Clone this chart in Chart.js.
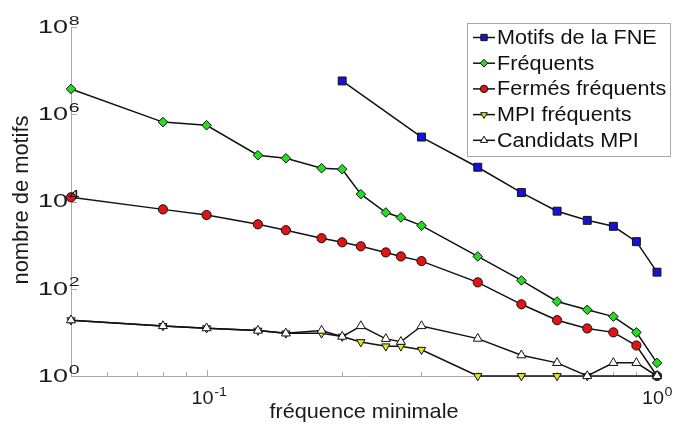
<!DOCTYPE html>
<html>
<head>
<meta charset="utf-8">
<script src="https://cdn.jsdelivr.net/npm/chart.js@4.4.1/dist/chart.umd.min.js"></script>
<style>
  html, body { margin: 0; padding: 0; background: #fff; }
  #wrap { width: 675px; height: 435px; }
</style>
</head>
<body>
<div id="wrap"><canvas id="chart"></canvas></div>
<script>
// minimal frequency (x) values
const freq = [0.05, 0.08, 0.1, 0.13, 0.15, 0.18, 0.2, 0.22, 0.25, 0.27, 0.3, 0.4, 0.5, 0.6, 0.7, 0.8, 0.9, 1.0];

// number of patterns per series (null = no point)
const motifsFNE = [null, null, null, null, null, null, 5.8e6, null, null, null, 3.0e5, 6.1e4, 1.6e4, 6.0e3, 3.7e3, 2.7e3, 1.2e3, 240];
const frequents = [3.8e6, 6.6e5, 5.6e5, 1.15e5, 9.8e4, 5.8e4, 5.5e4, 1.47e4, 5.6e3, 4.3e3, 2.8e3, 550, 155, 51, 33, 23, 10, 2];
const fermesFrequents = [1.25e4, 6.6e3, 4.9e3, 3.0e3, 2.2e3, 1.44e3, 1.16e3, 940, 680, 550, 430, 140, 44, 19, 12.3, 10, 5, 1];
const mpiFrequents = [19, 14, 12.5, 11, 9.5, 9.5, 8, 6, 4.8, 4.8, 4, 1, 1, 1, 1, null, null, 1];
const candidatsMPI = [19, 14, 12.5, 11, 9.5, 11, 8, 14, 7.1, 6.1, 14, 7.2, 3, 2, 1, 2, 2, 1];

const seriesNames = ['Motifs de la FNE', 'Fréquents', 'Fermés fréquents', 'MPI fréquents', 'Candidats MPI'];

// tick labels (powers of ten)
const xTickExp = [-1, 0];
const yTickExp = [0, 2, 4, 6, 8];
const xMinorTicks = [0.06, 0.07, 0.08, 0.09, 0.2, 0.3, 0.4, 0.5, 0.6, 0.7, 0.8, 0.9];

const FONT = "'Liberation Sans', Arial, sans-serif";
const AXIS_GREY = '#a9a9a9';

function toPoints(values) {
    return freq.map((f, i) => ({x: f, y: values[i]}));
}

const styles = [
    {color: '#1414d2', pointStyle: 'rect', radius: 5.6, rotation: 0},
    {color: '#22dd22', pointStyle: 'rectRot', radius: 4.8, rotation: 0},
    {color: '#e01414', pointStyle: 'circle', radius: 4.6, rotation: 0},
    {color: '#e4e422', pointStyle: 'triangle', radius: 4.8, rotation: 180},
    {color: '#ffffff', pointStyle: 'triangle', radius: 5.2, rotation: 0},
];
const allValues = [motifsFNE, frequents, fermesFrequents, mpiFrequents, candidatsMPI];

function powLabel(ctx, exp, x, y, sx) {
    // "10" ends at x, exponent raised to its right
    ctx.save();
    ctx.fillStyle = '#1a1a1a';
    ctx.textBaseline = 'middle';
    ctx.font = '18px ' + FONT;
    ctx.translate(x, y);
    ctx.scale(sx, 1);
    ctx.textAlign = 'right';
    ctx.fillText('10', 0, 0);
    ctx.font = '13px ' + FONT;
    ctx.textAlign = 'left';
    ctx.fillText(String(exp), 0.5, -7);
    ctx.restore();
}

const decorations = {
    id: 'decorations',
    beforeDatasetsDraw(chart) {
        const {ctx, chartArea: a, scales: {x, y}} = chart;
        ctx.save();
        ctx.strokeStyle = AXIS_GREY;
        ctx.lineWidth = 1;
        ctx.beginPath();
        xMinorTicks.forEach(v => {
            const px = Math.round(x.getPixelForValue(v)) + 0.5;
            ctx.moveTo(px, a.bottom);
            ctx.lineTo(px, a.bottom - 4);
        });
        xTickExp.forEach(e => {
            const px = Math.round(x.getPixelForValue(Math.pow(10, e))) + 0.5;
            ctx.moveTo(px, a.bottom);
            ctx.lineTo(px, a.bottom - 6);
        });
        yTickExp.forEach(e => {
            const py = Math.round(y.getPixelForValue(Math.pow(10, e))) + 0.5;
            ctx.moveTo(a.left, py);
            ctx.lineTo(a.left + 6, py);
        });
        ctx.stroke();
        ctx.restore();
    },
    afterDraw(chart) {
        const {ctx, chartArea: a, scales: {x, y}} = chart;

        // tick labels
        yTickExp.forEach(e => {
            const py = y.getPixelForValue(Math.pow(10, e));
            powLabel(ctx, e, a.left - 3, py + 1, 1.5);
        });
        xTickExp.forEach(e => {
            const px = x.getPixelForValue(Math.pow(10, e));
            powLabel(ctx, e, px + 7, a.bottom + 23, 1.1);
        });

        // axis titles
        ctx.save();
        ctx.fillStyle = '#1a1a1a';
        ctx.font = '21px ' + FONT;
        ctx.textAlign = 'center';
        ctx.textBaseline = 'alphabetic';
        let t = 'fréquence minimale';
        let sx = 189 / ctx.measureText(t).width;
        ctx.translate((a.left + a.right) / 2, 418);
        ctx.scale(sx, 1);
        ctx.fillText(t, 0, 0);
        ctx.restore();

        ctx.save();
        ctx.fillStyle = '#1a1a1a';
        ctx.font = '22px ' + FONT;
        ctx.textAlign = 'center';
        ctx.textBaseline = 'alphabetic';
        t = 'nombre de motifs';
        sx = 169 / ctx.measureText(t).width;
        ctx.translate(28, 200);
        ctx.rotate(-Math.PI / 2);
        ctx.scale(sx, 1);
        ctx.fillText(t, 0, 0);
        ctx.restore();

        // legend
        const box = {left: 467.5, top: 23.5, right: 670.5, bottom: 156.5};
        ctx.save();
        ctx.fillStyle = '#fff';
        ctx.strokeStyle = AXIS_GREY;
        ctx.lineWidth = 1;
        ctx.fillRect(box.left, box.top, box.right - box.left, box.bottom - box.top);
        ctx.strokeRect(box.left, box.top, box.right - box.left, box.bottom - box.top);
        seriesNames.forEach((name, i) => {
            const cy = 37.5 + i * 25.7;
            const s = styles[i];
            ctx.strokeStyle = '#111';
            ctx.lineWidth = 1.5;
            ctx.beginPath();
            ctx.moveTo(473, cy);
            ctx.lineTo(495, cy);
            ctx.stroke();
            ctx.fillStyle = s.color;
            ctx.strokeStyle = '#111';
            ctx.lineWidth = 1;
            Chart.helpers.drawPoint(ctx, {pointStyle: s.pointStyle, radius: s.radius * 0.8, rotation: s.rotation, borderWidth: 1}, 484, cy);
            ctx.save();
            ctx.fillStyle = '#111';
            ctx.font = '20px ' + FONT;
            ctx.textAlign = 'left';
            ctx.textBaseline = 'middle';
            ctx.translate(497, cy + 1);
            ctx.scale(1.08, 1);
            ctx.fillText(name, 0, 0);
            ctx.restore();
        });
        ctx.restore();
    }
};

const datasets = seriesNames.map((name, i) => ({
    label: name,
    data: toPoints(allValues[i]),
    borderColor: '#111',
    borderWidth: 1.5,
    backgroundColor: styles[i].color,
    pointBackgroundColor: styles[i].color,
    pointBorderColor: '#111',
    pointBorderWidth: 1,
    pointStyle: styles[i].pointStyle,
    pointRadius: styles[i].radius,
    pointRotation: styles[i].rotation,
    pointHoverRadius: styles[i].radius,
    spanGaps: true,
    tension: 0,
    clip: false,
    order: 5 - i,
}));

new Chart(document.getElementById('chart'), {
    type: 'line',
    data: {datasets: datasets},
    options: {
        responsive: true,
        maintainAspectRatio: false,
        animation: false,
        layout: {
            padding: {left: 0, right: 18, top: 27, bottom: 0},
        },
        scales: {
            x: {
                type: 'logarithmic',
                min: 0.05,
                max: 1,
                grid: {display: false},
                border: {display: true, color: AXIS_GREY, width: 1},
                ticks: {display: false},
                afterFit(scale) { scale.height = 59; },
            },
            y: {
                type: 'logarithmic',
                min: 1,
                max: 1e8,
                grid: {display: false},
                border: {display: true, color: AXIS_GREY, width: 1},
                ticks: {display: false},
                afterFit(scale) { scale.width = 71; },
            },
        },
        plugins: {
            legend: {display: false},
            tooltip: {enabled: false},
        },
    },
    plugins: [decorations],
});
</script>
</body>
</html>
